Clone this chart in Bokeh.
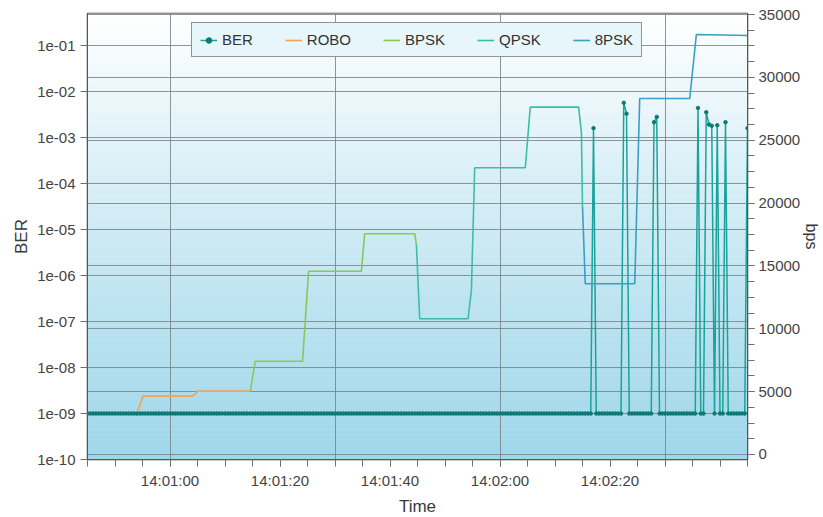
import numpy as np
import pandas as pd
from bokeh.plotting import figure
from bokeh.models import (Range1d, LinearAxis, LinearScale, Grid, FixedTicker,
                          SingleIntervalTicker, CustomJSTickFormatter, DatetimeTickFormatter)
from bokeh.embed import file_html
from bokeh.resources import INLINE

DAY = "2020-01-01 "

# ---------------- data ----------------
x_start = "14:00:45"
x_end = "14:02:45"
x_tick_labels = ["14:01:00", "14:01:20", "14:01:40", "14:02:00", "14:02:20"]
x_grid_times = ["14:01:00", "14:01:30", "14:02:00", "14:02:30"]
ber_tick_labels = ["1e-10", "1e-09", "1e-08", "1e-07", "1e-06", "1e-05",
                   "1e-04", "1e-03", "1e-02", "1e-01"]

robo_time = ["14:00:54.1", "14:00:55.1", "14:01:04.1", "14:01:05.1", "14:01:14.6"]
robo_bps = [3420, 4640, 4640, 5040, 5040]

bpsk_time = ["14:01:14.6", "14:01:15.5", "14:01:24.1", "14:01:25.2", "14:01:34.8",
             "14:01:35.4", "14:01:44.5", "14:01:44.8"]
bpsk_bps = [5040, 7420, 7420, 14580, 14580, 17560, 17560, 16700]

qpsk_time = ["14:01:44.8", "14:01:45.4", "14:01:54.2", "14:01:54.8", "14:01:55.4",
             "14:02:04.6", "14:02:05.5", "14:02:14.3", "14:02:14.8", "14:02:15.0"]
qpsk_bps = [16700, 10800, 10800, 13100, 22810, 22810, 27630, 27630, 25600, 19750]

psk8_time = ["14:02:15.0", "14:02:15.5", "14:02:24.5", "14:02:25.4", "14:02:34.5",
             "14:02:35.7", "14:02:45.0"]
psk8_bps = [19750, 13580, 13580, 28320, 28320, 33410, 33330]

# BER: sampled every 0.5 s, floor value 1e-09, plus the error bursts
ber_period = "500ms"
ber_floor = 1e-09
ber_spike_time = ["14:02:17.0", "14:02:22.5", "14:02:23.0", "14:02:28.0", "14:02:28.5",
                  "14:02:36.0", "14:02:37.5", "14:02:38.0", "14:02:38.5", "14:02:39.5",
                  "14:02:41.0", "14:02:45.0"]
ber_spike_value = [1.6e-3, 5.7e-3, 3.3e-3, 2.15e-3, 2.8e-3,
                   4.4e-3, 3.55e-3, 1.92e-3, 1.8e-3, 1.85e-3,
                   2.15e-3, 1.6e-3]


def ts(s):
    return pd.Timestamp(DAY + s)


def ms(s):
    return ts(s).value / 1e6


ber_t = pd.date_range(ts(x_start), ts(x_end), freq=ber_period)
ber_v = pd.Series(ber_floor, index=ber_t)
for t, v in zip(ber_spike_time, ber_spike_value):
    ber_v[ts(t)] = v

# ---------------- figure ----------------
FONT = "Liberation Sans"

p = figure(frame_width=660, frame_height=446, x_axis_type="datetime", y_axis_type="log",
           x_range=Range1d(ts(x_start), ts(x_end)), y_range=Range1d(1e-10, 0.497),
           output_backend="svg", toolbar_location=None,
           min_border_left=87, min_border_right=40, min_border_top=13, min_border_bottom=40)
p.background_fill_color = "#ffffff"
p.border_fill_color = "#ffffff"
p.outline_line_color = "#3c3c3c"
p.outline_line_width = 1.5

p.extra_y_ranges = {"bps": Range1d(-400, 35080)}
p.extra_y_scales = {"bps": LinearScale()}

# gradient background of the plot area (bands on the linear bps range)
nb = 90
edges = np.linspace(-400, 35080, nb + 1)
c0 = np.array([0xa0, 0xd7, 0xea], dtype=float)   # bottom
c1 = np.array([0xff, 0xff, 0xff], dtype=float)   # top
cols = []
for i in range(nb):
    f = (i + 0.5) / nb
    c = c0 + (c1 - c0) * f ** 1.1
    cols.append("#%02x%02x%02x" % tuple(int(round(v)) for v in c))
p.quad(left=[ts(x_start)] * nb, right=[ts(x_end)] * nb, bottom=edges[:-1], top=edges[1:],
       y_range_name="bps", fill_color=cols, line_color=cols, line_width=0.5, level="image")

# series
p.line(ber_t, ber_v.values, color="#1aa39a", line_width=1.5, legend_label="BER")
p.scatter(ber_t, ber_v.values, size=3.5, color="#0d7a73", legend_label="BER")
p.line([ts(t) for t in robo_time], robo_bps, y_range_name="bps", color="#f0a458",
       line_width=1.6, legend_label="ROBO")
p.line([ts(t) for t in bpsk_time], bpsk_bps, y_range_name="bps", color="#84c95a",
       line_width=1.6, legend_label="BPSK")
p.line([ts(t) for t in qpsk_time], qpsk_bps, y_range_name="bps", color="#3dbda6",
       line_width=1.6, legend_label="QPSK")
p.line([ts(t) for t in psk8_time], psk8_bps, y_range_name="bps", color="#3a9fc2",
       line_width=1.6, legend_label="8PSK")

# axes
TICK_COLOR = "#707070"
LBL_COLOR = "#3a3a3a"

xa = p.xaxis[0]
xa.ticker = FixedTicker(ticks=[ms(s) for s in x_tick_labels],
                        minor_ticks=list(np.arange(ms(x_start), ms(x_end) + 1, 5000.0)))
fmt = "%H:%M:%S"
xa.formatter = DatetimeTickFormatter(milliseconds=fmt, seconds=fmt, minsec=fmt, minutes=fmt,
                                     hourmin=fmt, hours=fmt, days=fmt, months=fmt, years=fmt)
xa.axis_label = "Time"

ya = p.yaxis[0]
ya.ticker = FixedTicker(ticks=[float(s) for s in ber_tick_labels], minor_ticks=[])
ya.formatter = CustomJSTickFormatter(code="""
const e = Math.round(Math.log10(tick));
const a = Math.abs(e);
return "1e" + (e < 0 ? "-" : "+") + (a < 10 ? "0" + a : "" + a);
""")
ya.axis_label = "BER"

ra = LinearAxis(y_range_name="bps", axis_label="bps",
                ticker=SingleIntervalTicker(interval=5000, num_minor_ticks=4))
p.add_layout(ra, "right")

for ax in (xa, ya, ra):
    ax.axis_line_color = "#555555"
    ax.major_tick_line_color = TICK_COLOR
    ax.minor_tick_line_color = TICK_COLOR
    ax.major_tick_out = 7
    ax.major_tick_in = 0
    ax.minor_tick_out = 7
    ax.minor_tick_in = 0
    ax.major_label_text_font = FONT
    ax.major_label_text_font_size = "15px"
    ax.major_label_text_color = "#444444"
    ax.axis_label_text_font = FONT
    ax.axis_label_text_font_size = "17px"
    ax.axis_label_text_font_style = "normal"
    ax.axis_label_text_color = LBL_COLOR
    ax.major_label_standoff = 5
    ax.axis_label_standoff = 6
ya.minor_tick_line_color = None
ya.axis_label_standoff = 3
xa.axis_label_standoff = 5
ra.major_label_standoff = 4
ra.axis_label_standoff = 0
ra.axis_label_text_font_size = "16px"

# grids
GRID = "#76858b"
p.xgrid.ticker = FixedTicker(ticks=[ms(s) for s in x_grid_times])
p.xgrid.grid_line_color = GRID
p.xgrid.grid_line_alpha = 0.85
p.ygrid.grid_line_color = GRID
p.ygrid.grid_line_alpha = 0.85
rg = Grid(dimension=1, ticker=ra.ticker, y_range_name="bps",
          grid_line_color=GRID, grid_line_alpha=0.85)
p.add_layout(rg)

# legend
lg = p.legend[0]
lg.orientation = "horizontal"
lg.location = (104, 402)
lg.border_line_color = "#333333"
lg.border_line_width = 1.5
lg.background_fill_color = "#e6f6fb"
lg.background_fill_alpha = 1.0
lg.label_text_font = FONT
lg.label_text_font_size = "15px"
lg.label_text_color = "#333333"
lg.glyph_width = 17
lg.glyph_height = 14
lg.label_standoff = 5
lg.spacing = 32
lg.padding = 8
lg.margin = 0

open("out.html", "w").write(file_html(p, INLINE))
